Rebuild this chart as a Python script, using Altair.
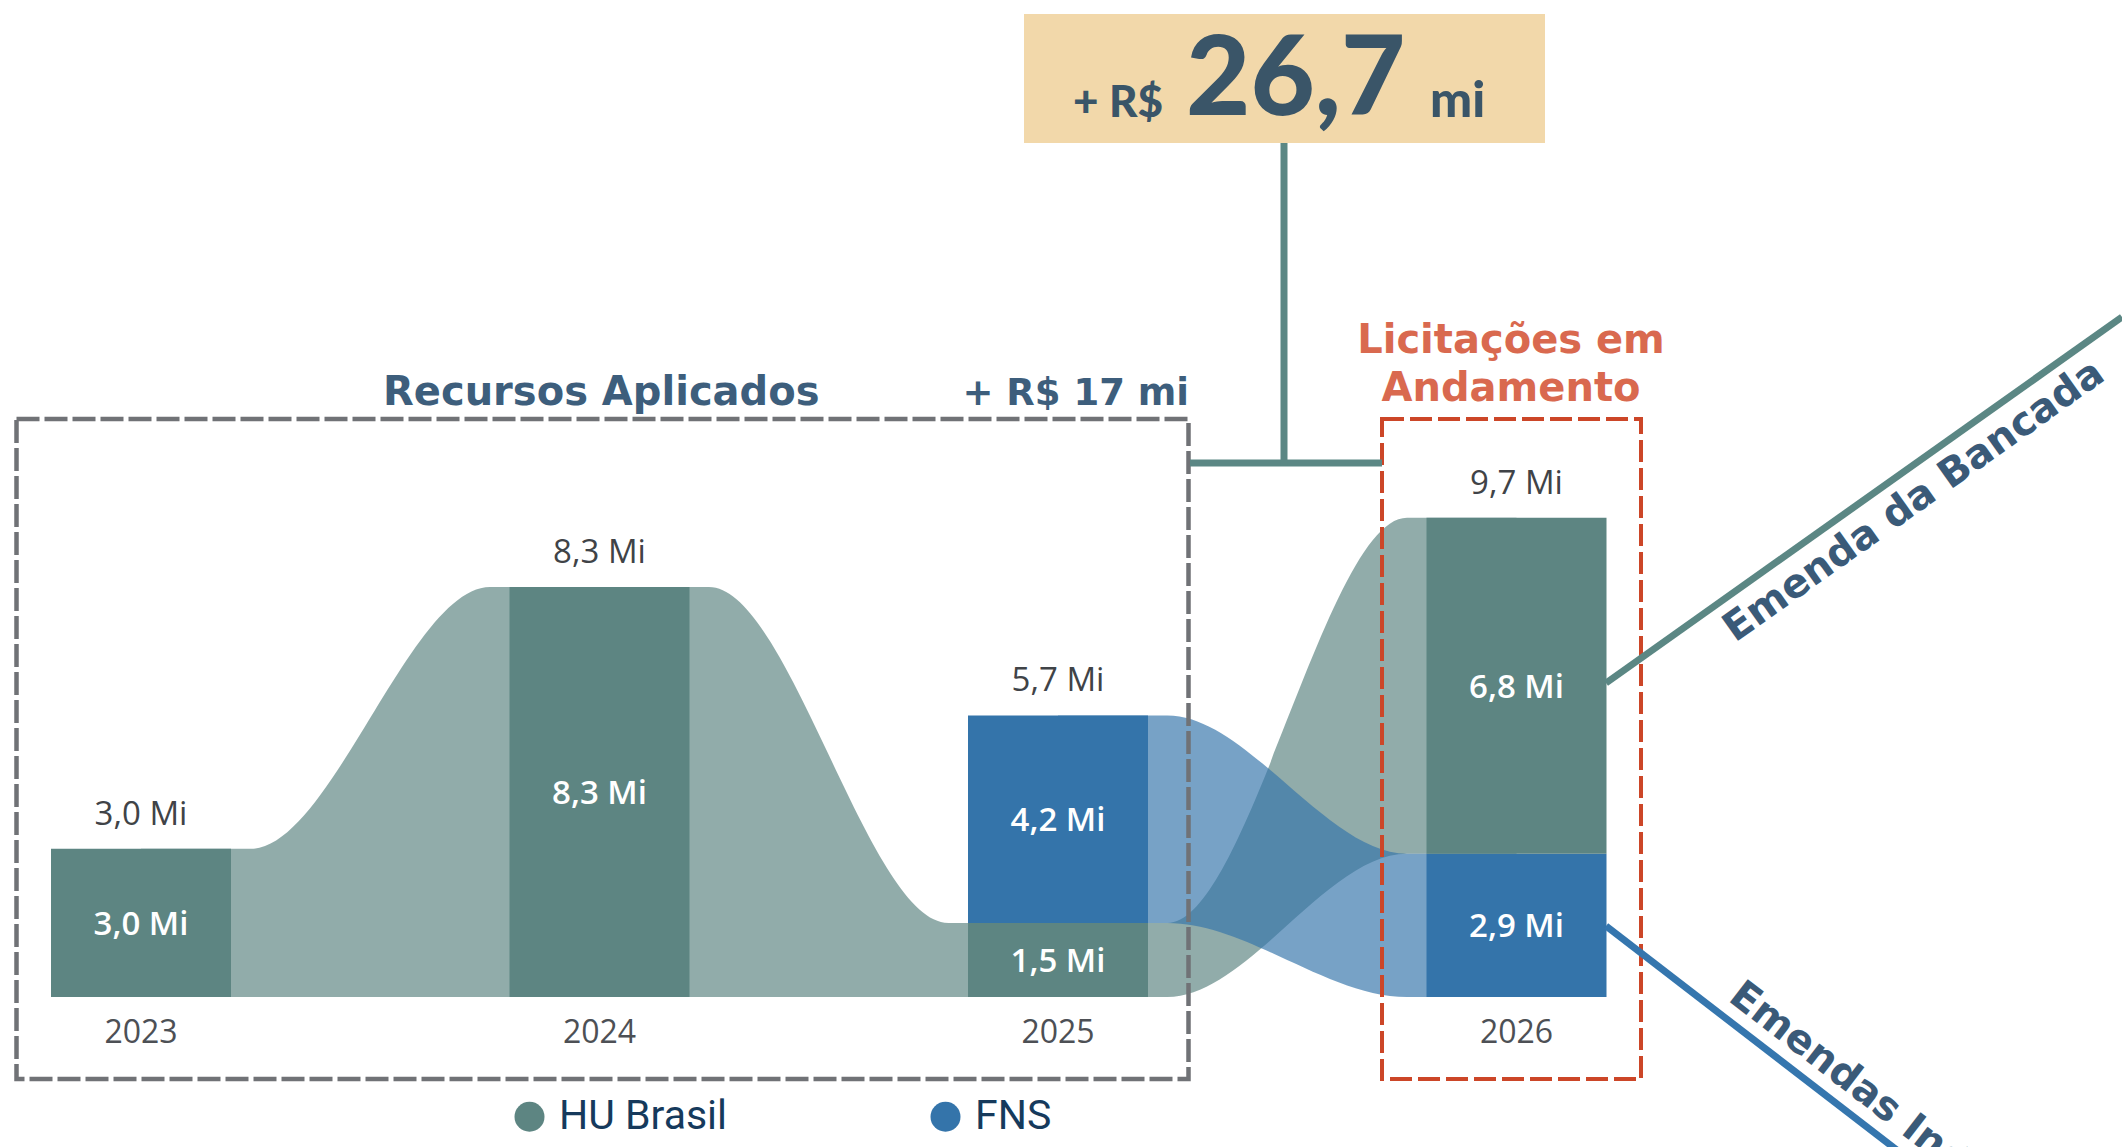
import altair as alt
import pandas as pd

# ---------------- data ----------------
years = [2023, 2024, 2025, 2026]
hu_brasil = [3.0, 8.3, 1.5, 6.8]
fns = [0.0, 0.0, 4.2, 2.9]
bottom_series = ["HU Brasil", "HU Brasil", "HU Brasil", "FNS"]   # which source sits at the base of each bar
series_names = ["HU Brasil", "FNS"]
series_colors = ["#5D8582", "#3474AA"]

# ---------------- layout ----------------
W, H = 2122, 1147
X_PX0, X_STEP = 141.0, 458.5   # pixel of first year centre, pixels per year
Y_PX0, Y_STEP = 997.0, 49.4    # pixel of baseline, pixels per Mi
HALF = 90.0 / X_STEP           # half bar width in year units
FLAT = 0.07                    # share of each gap where a ribbon stays level before bending

x_dom = [years[0] - X_PX0 / X_STEP, years[0] + (W - X_PX0) / X_STEP]
y_dom = [-(H - Y_PX0) / Y_STEP, Y_PX0 / Y_STEP]
xs = alt.Scale(domain=x_dom, nice=False, zero=False)
ys = alt.Scale(domain=y_dom, nice=False, zero=False)


def fmt(v):
    return f"{v:.1f}".replace(".", ",") + " Mi"


seg_rows, spans = [], {}
for yr, h, f, b in zip(years, hu_brasil, fns, bottom_series):
    vals = {"HU Brasil": h, "FNS": f}
    order = [b] + [s for s in series_names if s != b]
    base = 0.0
    for s in order:
        v = vals[s]
        if v > 0:
            spans[(yr, s)] = (base, base + v)
            seg_rows.append(dict(year=yr, serie=s, xa=yr - HALF, xb=yr + HALF,
                                 y0=base, y1=base + v, mid=base + v / 2, label=fmt(v)))
            base += v
bars = pd.DataFrame(seg_rows)

totals = pd.DataFrame(dict(year=years, total=[h + f for h, f in zip(hu_brasil, fns)]))
totals["label"] = totals["total"].map(fmt)
totals["zero"] = 0.0
totals["ylab"] = totals["year"].astype(str)

flow_rows = []
for i in range(len(years) - 1):
    a, b = years[i], years[i + 1]
    gap = (b - HALF) - (a + HALF)
    for s in series_names:
        if (a, s) in spans and (b, s) in spans:
            (sb, st), (tb, tt) = spans[(a, s)], spans[(b, s)]
            pts = [(a, sb, st), (a + HALF + FLAT * gap, sb, st),
                   (b - HALF - FLAT * gap, tb, tt), (b, tb, tt)]
            for x, lo, hi in pts:
                flow_rows.append(dict(flow=f"{s}-{a}", serie=s, x=x, bot=lo, top=hi))
flows = pd.DataFrame(flow_rows)

one = pd.DataFrame({"k": [0]})


def ribbon(s, color, op):
    return alt.Chart(flows).transform_filter(alt.datum.serie == s).mark_area(
        interpolate="monotone", color=color, opacity=op
    ).encode(
        x=alt.X("x:Q", scale=xs, axis=None),
        y=alt.Y("top:Q", scale=ys, axis=None),
        y2="bot:Q",
        detail="flow:N",
    )


rib_hu = ribbon("HU Brasil", series_colors[0], 0.68)
rib_fns = ribbon("FNS", series_colors[1], 0.67)

bar_layer = alt.Chart(bars).mark_rect(strokeWidth=0).encode(
    x=alt.X("xa:Q", scale=xs, axis=None), x2="xb:Q",
    y=alt.Y("y0:Q", scale=ys, axis=None), y2="y1:Q",
    color=alt.Color("serie:N",
                    scale=alt.Scale(domain=series_names, range=series_colors),
                    legend=alt.Legend(title=None, orient="none", legendX=509, legendY=1096,
                                      direction="horizontal", symbolType="circle",
                                      symbolSize=900, symbolOpacity=1, symbolStrokeWidth=0,
                                      labelFont="Roboto", labelFontSize=41, labelColor="#163A5C",
                                      labelOffset=9, columnPadding=197, padding=0, labelLimit=500)),
)

inner_labels = alt.Chart(bars).mark_text(
    font="Open Sans", fontSize=33, fontWeight=600, color="white", baseline="alphabetic", dy=12
).encode(x=alt.X("year:Q", scale=xs, axis=None), y=alt.Y("mid:Q", scale=ys, axis=None), text="label:N")

total_labels = alt.Chart(totals).mark_text(
    font="Open Sans", fontSize=33, color="#404347", baseline="alphabetic", dy=-24
).encode(x=alt.X("year:Q", scale=xs, axis=None), y=alt.Y("total:Q", scale=ys, axis=None), text="label:N")

year_labels = alt.Chart(totals).mark_text(
    font="Open Sans", fontSize=32, color="#4D5055", baseline="alphabetic", dy=46
).encode(x=alt.X("year:Q", scale=xs, axis=None), y=alt.Y("zero:Q", scale=ys, axis=None), text="ylab:N")

# ---------------- annotations ----------------
grey_box = alt.Chart(one).mark_rect(fillOpacity=0, stroke="#707276", strokeWidth=4.5, strokeDash=[23, 5]).encode(
    x=alt.value(16.5), x2=alt.value(1188.5), y=alt.value(419), y2=alt.value(1079))
red_box = alt.Chart(one).mark_rect(fillOpacity=0, stroke="#CC4628", strokeWidth=4, strokeDash=[22, 6]).encode(
    x=alt.value(1382), x2=alt.value(1641), y=alt.value(419), y2=alt.value(1079))

conn_h = alt.Chart(one).mark_rule(color="#5B8784", strokeWidth=7).encode(
    x=alt.value(1190), x2=alt.value(1382), y=alt.value(463))
conn_v = alt.Chart(one).mark_rule(color="#5B8784", strokeWidth=7).encode(
    x=alt.value(1284), y=alt.value(140), y2=alt.value(466))

title_box = alt.Chart(one).mark_rect(color="#F2D8AA").encode(
    x=alt.value(1024), x2=alt.value(1545), y=alt.value(14), y2=alt.value(143))


def txt(text, x, y, size, color, font="DejaVu Sans", weight="bold", align="left", angle=0, **kw):
    props = dict(text=text, font=font, fontSize=size, fontWeight=weight, color=color,
                 align=align, baseline="alphabetic", **kw)
    if angle:
        props["angle"] = angle
    return alt.Chart(one).mark_text(**props).encode(x=alt.value(x), y=alt.value(y))


navy = "#3A5568"
t_plus = txt("+ R$", 1073, 117, 44, navy, font="Lato", weight=900)
t_big = txt("26,7", 1186, 115, 111, navy, font="Lato", weight=900)
t_mi = txt("mi", 1430, 117, 50, navy, font="Lato", weight=900)

t_rec = txt("Recursos Aplicados", 383, 405, 40, "#3D5E7C")
t_17 = txt("+ R$ 17 mi", 1189, 405, 37, "#3D5E7C", align="right")
t_lic = txt(["Licitações em", "Andamento"], 1511, 353, 40, "#D9694F", align="center", lineHeight=48)

diag_up = alt.Chart(one).mark_rule(color="#5B8784", strokeWidth=7).encode(
    x=alt.value(1606), y=alt.value(683), x2=alt.value(2122), y2=alt.value(317))
diag_dn = alt.Chart(one).mark_rule(color="#3576AE", strokeWidth=7).encode(
    x=alt.value(1606), y=alt.value(926), x2=alt.value(1950), y2=alt.value(1191))

t_bancada = txt("Emenda da Bancada", 1735, 643, 40, "#3A5A78", angle=324.6)
t_indiv = txt("Emendas Individuais", 1727, 1000, 40, "#3A5A78", angle=37.6)

chart = alt.layer(
    rib_hu, rib_fns, bar_layer, inner_labels, total_labels, year_labels,
    grey_box, red_box, conn_h, conn_v, title_box, t_plus, t_big, t_mi,
    t_rec, t_17, t_lic, diag_up, diag_dn, t_bancada, t_indiv,
).properties(
    width=W, height=H, padding=0,
    autosize=alt.AutoSizeParams(type="none"), background="white",
).configure_view(strokeWidth=0)

chart.save("out.html", embed_options={"renderer": "svg", "actions": False})
